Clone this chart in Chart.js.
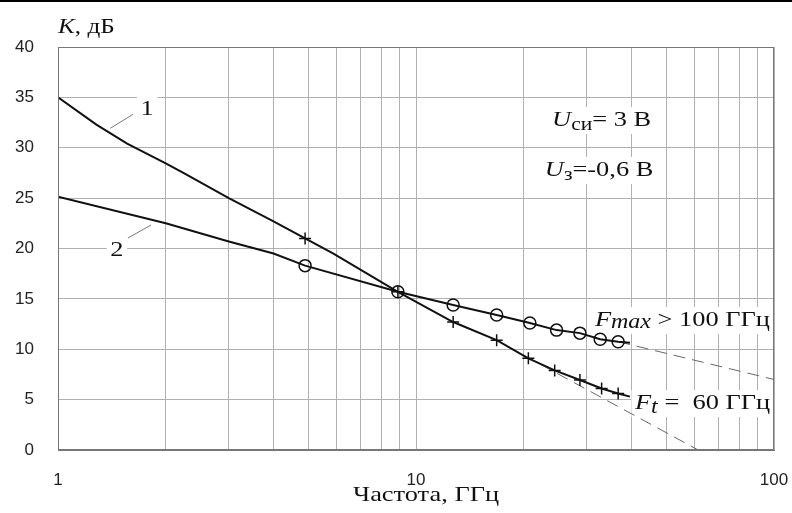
<!DOCTYPE html>
<html>
<head>
<meta charset="utf-8">
<script src="https://cdn.jsdelivr.net/npm/chart.js@4.4.1/dist/chart.umd.min.js"></script>
<style>
  html, body { margin: 0; padding: 0; background: #fff; }
  #wrap { width: 792px; height: 513px; }
</style>
</head>
<body>
<div id="wrap"><canvas id="chart" width="792" height="513"></canvas></div>
<script>
// curve 1 (crosses)
const freq1 = [1, 1.28, 1.56, 2, 2.24, 3, 4, 4.9, 5.88, 8.9, 12.7, 16.8, 20.6, 24.4, 28.7, 33, 36.7, 39.6];
const gain1 = [35, 32.3, 30.4, 28.45, 27.5, 25.0, 22.7, 21.0, 19.5, 15.7, 12.7, 10.9, 9.1, 7.9, 6.95, 6.1, 5.6, 5.3];
const mark1 = [0, 0, 0, 0, 0, 0, 0, 1, 0, 1, 1, 1, 1, 1, 1, 1, 1, 0];

// curve 2 (circles)
const freq2 = [1, 2, 3, 4, 4.9, 8.9, 12.7, 16.8, 20.8, 24.7, 28.7, 32.7, 36.7, 39.6];
const gain2 = [25.15, 22.5, 20.7, 19.5, 18.3, 15.7, 14.4, 13.4, 12.6, 11.9, 11.6, 11.0, 10.75, 10.65];
const mark2 = [0, 0, 0, 0, 1, 1, 1, 1, 1, 1, 1, 1, 1, 0];

// dashed extrapolations
const dashFt = [20, 61.4];
const dashFtGain = [9.4, 0];
const dashFmax = [36.7, 100];
const dashFmaxGain = [10.75, 7.0];

const xGrid = [1, 2, 3, 4, 5, 6, 7, 8, 9, 10, 20, 30, 40, 50, 60, 70, 80, 90, 100];
const xLabels = [1, 10, 100];
const yTicks = [0, 5, 10, 15, 20, 25, 30, 35, 40];

const pts = (xs, ys) => xs.map((x, i) => ({ x: x, y: ys[i] }));
const serif = "'Liberation Serif', 'Times New Roman', serif";
const sans = "'Liberation Sans', Arial, sans-serif";
const stretch = 1.2;

// text runs: [text, size, italic, shift]
function drawRuns(ctx, x, y, runs, bg) {
  let w = 0;
  runs.forEach(r => {
    ctx.font = (r[2] ? 'italic ' : '') + r[1] + 'px ' + serif;
    w += ctx.measureText(r[0]).width;
  });
  ctx.save();
  ctx.translate(x, y);
  ctx.scale(stretch, 1);
  if (bg) {
    ctx.fillStyle = '#fff';
    ctx.fillRect(-3, -13, w + 6, 27);
  }
  ctx.fillStyle = '#111';
  ctx.textBaseline = 'middle';
  ctx.textAlign = 'left';
  let cx = 0;
  runs.forEach(r => {
    ctx.font = (r[2] ? 'italic ' : '') + r[1] + 'px ' + serif;
    ctx.fillText(r[0], cx, r[3] || 0);
    cx += ctx.measureText(r[0]).width;
  });
  ctx.restore();
  return w * stretch;
}

const notes = {
  id: 'notes',
  beforeDatasetsDraw(chart) {
    const ctx = chart.ctx;
    const xs = chart.scales.x, ys = chart.scales.y;
    const X = v => xs.getPixelForValue(v), Y = v => ys.getPixelForValue(v);
    ctx.save();
    drawRuns(ctx, X(1.70), Y(33.85), [['1', 22, false]], true);
    drawRuns(ctx, X(1.40), Y(19.85), [['2', 22, false]], true);
    // leader lines
    ctx.strokeStyle = '#777';
    ctx.lineWidth = 1;
    ctx.beginPath();
    ctx.moveTo(X(1.40), Y(31.93)); ctx.lineTo(X(1.62), Y(33.32));
    ctx.moveTo(X(1.568), Y(21.04)); ctx.lineTo(X(1.82), Y(22.33));
    ctx.stroke();
    drawRuns(ctx, X(24), Y(32.75), [['U', 22, true], ['си', 18, false, 5], ['= 3 В', 22, false]], true);
    drawRuns(ctx, X(22.9), Y(27.8), [['U', 22, true], ['з', 18, false, 5], ['=-0,6 В', 22, false]], true);
    drawRuns(ctx, X(31.6), Y(12.9), [['F', 22, true], ['max', 20, true, 3], [' > 100 ГГц', 22, false]], true);
    drawRuns(ctx, X(40.9), Y(4.66), [['F', 22, true], ['t', 20, true, 5], [' =  60 ГГц', 22, false]], true);
    ctx.restore();
  },
  afterDraw(chart) {
    const ctx = chart.ctx;
    const a = chart.chartArea;
    ctx.save();
    ctx.strokeStyle = '#777';
    ctx.lineWidth = 1;
    ctx.strokeRect(a.left + 0.5, a.top + 0.5, a.right - a.left - 1, a.bottom - a.top - 1);
    // top rule of the figure
    ctx.fillStyle = '#000';
    ctx.fillRect(0, 0, 792, 2);
    drawRuns(ctx, a.left, a.top - 20, [['K', 21, true], [', дБ', 21, false]], false);
    ctx.font = '22px ' + serif;
    const tw = ctx.measureText('Частота, ГГц').width * stretch;
    drawRuns(ctx, 426 - tw / 2, 495, [['Частота, ГГц', 22, false]], false);
    ctx.restore();
  }
};

new Chart(document.getElementById('chart'), {
  type: 'scatter',
  data: {
    datasets: [
      {
        data: pts(freq1, gain1),
        showLine: true,
        borderColor: '#111',
        borderWidth: 2,
        pointStyle: 'cross',
        pointRadius: mark1.map(m => m ? 6 : 0),
        pointBorderWidth: 1.5,
        pointBorderColor: '#111'
      },
      {
        data: pts(freq2, gain2),
        showLine: true,
        borderColor: '#111',
        borderWidth: 2,
        pointStyle: 'circle',
        pointRadius: mark2.map(m => m ? 6 : 0),
        pointBorderWidth: 1.5,
        pointBorderColor: '#111',
        pointBackgroundColor: 'rgba(0,0,0,0)'
      },
      {
        data: pts(dashFt, dashFtGain),
        showLine: true,
        borderColor: '#666',
        borderWidth: 1,
        borderDash: [12, 7],
        pointRadius: 0
      },
      {
        data: pts(dashFmax, dashFmaxGain),
        showLine: true,
        borderColor: '#666',
        borderWidth: 1,
        borderDash: [12, 7],
        pointRadius: 0
      }
    ]
  },
  options: {
    responsive: false,
    animation: false,
    layout: { padding: { left: 0, right: 18, top: 47, bottom: 0 } },
    plugins: {
      legend: { display: false },
      tooltip: { enabled: false }
    },
    scales: {
      x: {
        type: 'logarithmic',
        min: 1,
        max: 100,
        afterBuildTicks: s => { s.ticks = xGrid.map(v => ({ value: v })); },
        afterFit: s => { s.height = 63; s.paddingLeft = 0; s.paddingRight = 0; },
        grid: { color: '#b0b0b0', drawTicks: false },
        border: { color: '#777' },
        ticks: {
          autoSkip: false,
          maxRotation: 0,
          padding: 20,
          color: '#222',
          font: { family: sans, size: 17 },
          callback: v => xLabels.includes(v) ? String(v) : ''
        }
      },
      y: {
        min: 0,
        max: 40,
        afterBuildTicks: s => { s.ticks = yTicks.map(v => ({ value: v })); },
        afterFit: s => { s.width = 58; s.paddingTop = 0; s.paddingBottom = 0; },
        grid: { color: '#b0b0b0', drawTicks: false },
        border: { color: '#777' },
        ticks: {
          padding: 24,
          color: '#222',
          font: { family: sans, size: 17 }
        }
      }
    }
  },
  plugins: [notes]
});
</script>
</body>
</html>
